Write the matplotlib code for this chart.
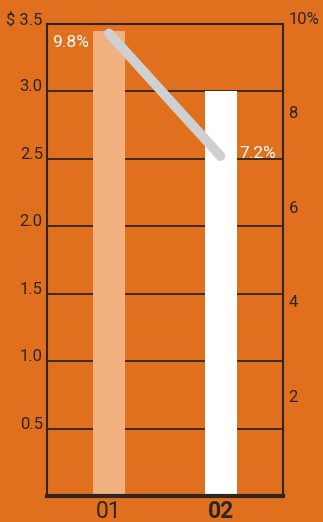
import matplotlib
matplotlib.use("Agg")
import matplotlib.pyplot as plt

# Data
categories = ["01", "02"]
values = [3.45, 3.0]            # dollars
margins = [9.8, 7.2]            # percent
margin_labels = ["9.8%", "7.2%"]
left_ticks = [0.5, 1.0, 1.5, 2.0, 2.5, 3.0, 3.5]
left_ticklabels = ["0.5", "1.0", "1.5", "2.0", "2.5", "3.0", "$ 3.5"]
right_ticks = [2, 4, 6, 8, 10]
right_ticklabels = ["2", "4", "6", "8", "10%"]

ORANGE = "#e06f1e"
PEACH = "#f1b07f"
DARK = "#2e2620"
GREY = "#cfd0d2"
FONT = ["Roboto", "DejaVu Sans"]

plt.rcParams["font.family"] = FONT

fig = plt.figure(figsize=(3.23, 5.22), dpi=100, facecolor=ORANGE)
ax = fig.add_axes([47 / 323, 1 - 496 / 522, 236 / 323, 472 / 522])
ax.set_facecolor(ORANGE)

x = list(range(len(categories)))
ax.set_xlim(-0.556, 1.56)
ax.set_ylim(0, 3.5)

# Grid lines behind the bars
for t in left_ticks:
    ax.axhline(t, color=DARK, lw=1.3, zorder=1)

ax.bar(x, values, width=0.287, color=[PEACH, "white"], zorder=2)

for s in ["left", "right", "top"]:
    ax.spines[s].set_color(DARK)
    ax.spines[s].set_linewidth(1.5)
ax.spines["bottom"].set_color(DARK)
ax.spines["bottom"].set_linewidth(3)
ax.spines["bottom"].set_zorder(5)

ax.set_yticks(left_ticks)
ax.set_yticklabels(left_ticklabels, fontsize=12, color=DARK, va="baseline")
ax.tick_params(axis="y", length=0, pad=3)
ax.set_xticks(x)
ax.set_xticklabels(categories, fontsize=16.5, color=DARK)
ax.get_xticklabels()[1].set_fontweight("bold")
ax.tick_params(axis="x", length=0, pad=3)

ax2 = ax.twinx()
ax2.set_ylim(0, 10)
ax2.set_yticks(right_ticks)
ax2.set_yticklabels(right_ticklabels, fontsize=12, color=DARK, va="baseline")
ax2.tick_params(axis="y", length=0, pad=4)
for s in ax2.spines.values():
    s.set_visible(False)

ax2.plot(x, margins, color=GREY, lw=7, solid_capstyle="round", zorder=4)

offsets = [(-57, -9), (19, 3)]
for xi, m, lab, (dx, dy) in zip(x, margins, margin_labels, offsets):
    ax2.annotate(lab, (xi, m), xytext=(dx, dy), textcoords="offset pixels",
                 color="white", fontsize=12.5, ha="left", va="center")

fig.savefig("out.png", dpi=100, facecolor=ORANGE)
